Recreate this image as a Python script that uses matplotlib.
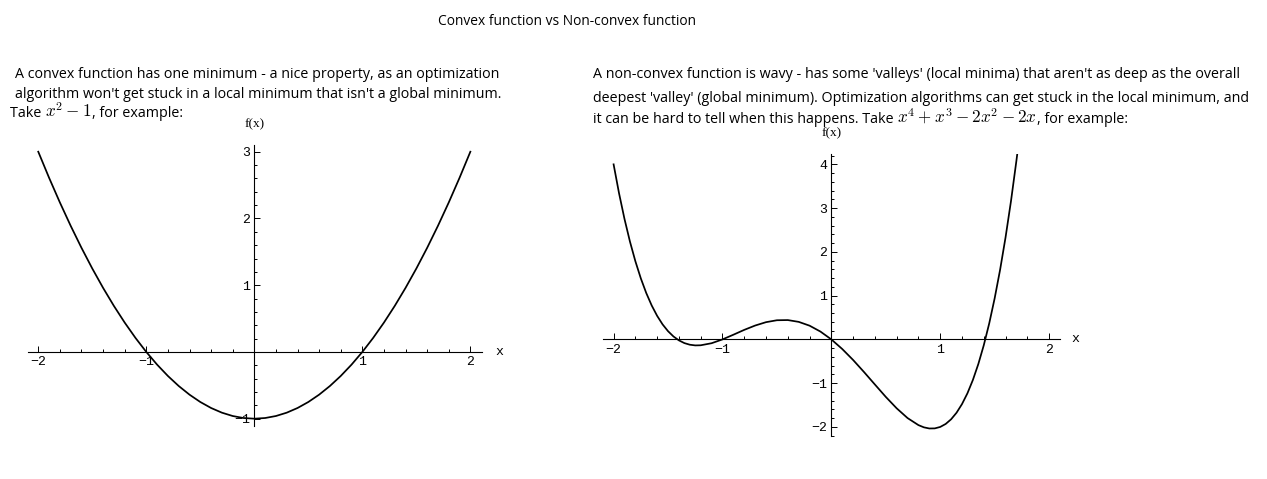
import matplotlib.pyplot as plt

plt.rcParams['font.family'] = ['Open Sans', 'DejaVu Sans']
plt.rcParams['mathtext.fontset'] = 'cm'

# points, f(x) = x^2 - 1
convex_x = [-2.0, -1.9, -1.8, -1.7, -1.6, -1.5, -1.4, -1.3, -1.2, -1.1, -1.0,
            -0.9, -0.8, -0.7, -0.6, -0.5, -0.4, -0.3, -0.2, -0.1, 0.0,
            0.1, 0.2, 0.3, 0.4, 0.5, 0.6, 0.7, 0.8, 0.9, 1.0,
            1.1, 1.2, 1.3, 1.4, 1.5, 1.6, 1.7, 1.8, 1.9, 2.0]
convex_y = [3.00, 2.61, 2.24, 1.89, 1.56, 1.25, 0.96, 0.69, 0.44, 0.21, 0.00,
            -0.19, -0.36, -0.51, -0.64, -0.75, -0.84, -0.91, -0.96, -0.99, -1.00,
            -0.99, -0.96, -0.91, -0.84, -0.75, -0.64, -0.51, -0.36, -0.19, 0.00,
            0.21, 0.44, 0.69, 0.96, 1.25, 1.56, 1.89, 2.24, 2.61, 3.00]

# points, f(x) = x^4 + x^3 - 2x^2 - 2x
nonconvex_x = [-2.0, -1.95, -1.9, -1.85, -1.8, -1.75, -1.7, -1.65, -1.6, -1.55,
               -1.5, -1.45, -1.4, -1.35, -1.3, -1.25, -1.2, -1.1, -1.0,
               -0.9, -0.8, -0.7, -0.6, -0.5, -0.4, -0.3, -0.2, -0.1, 0.0,
               0.1, 0.2, 0.3, 0.4, 0.5, 0.6, 0.7, 0.8, 0.85, 0.9, 0.95,
               1.0, 1.05, 1.1, 1.15, 1.2, 1.25, 1.3, 1.35, 1.4, 1.45,
               1.5, 1.55, 1.6, 1.65, 1.7, 1.71]
nonconvex_y = [4.000, 3.339, 2.753, 2.237, 1.786, 1.395, 1.059, 0.775, 0.538, 0.343,
               0.188, 0.067, -0.022, -0.084, -0.121, -0.137, -0.134, -0.087, 0.000,
               0.107, 0.218, 0.317, 0.394, 0.438, 0.442, 0.401, 0.314, 0.179, 0.000,
               -0.219, -0.470, -0.745, -1.030, -1.313, -1.574, -1.797, -1.958, -2.009, -2.035, -2.033,
               -2.000, -1.932, -1.825, -1.675, -1.478, -1.231, -0.927, -0.563, -0.134, 0.364,
               0.938, 1.591, 2.330, 3.159, 4.085, 4.282]

x_ticks = [-2, -1, 1, 2]
x_labels = ['\u22122', '\u22121', '1', '2']
convex_yticks = [-1, 1, 2, 3]
convex_ylabels = ['\u22121', '1', '2', '3']
nonconvex_yticks = [-2, -1, 1, 2, 3, 4]
nonconvex_ylabels = ['\u22122', '\u22121', '1', '2', '3', '4']

W, H = 1267, 479
fig = plt.figure(figsize=(W / 100, H / 100), dpi=100)
renderer = fig.canvas.get_renderer()


def setup(ax, xlim, ylim, yticks, ylabels, minor_y):
    ax.set_xlim(xlim)
    ax.set_ylim(ylim)
    ax.patch.set_visible(False)
    for s in ['top', 'right']:
        ax.spines[s].set_visible(False)
    for s in ['left', 'bottom']:
        ax.spines[s].set_position(('data', 0))
        ax.spines[s].set_linewidth(0.8)
    ax.set_xticks(x_ticks, labels=x_labels)
    ax.set_yticks(yticks, labels=ylabels)
    ax.set_xticks([i / 5 for i in range(-10, 11) if i % 5], minor=True)
    ax.set_yticks(minor_y, minor=True)
    ax.tick_params(which='both', direction='in', width=0.7, colors='black',
                   labelfontfamily='Liberation Mono', labelsize=9.5)
    ax.tick_params(which='major', length=4.5, pad=3)
    ax.tick_params(which='minor', length=2.2)


ax1 = fig.add_axes([0.0221, 0.1106, 0.3581, 0.5866])
setup(ax1, (-2.095, 2.105), (-1.11, 3.1), convex_yticks, convex_ylabels,
      [i / 5 for i in range(-5, 16) if i % 5])
ax1.plot(convex_x, convex_y, color='black', lw=1.25)
ax1.text(2.27, 0, 'x', fontfamily='Liberation Mono', fontsize=9.5,
         ha='center', va='center', clip_on=False)
ax1.text(0, 3.41, 'f(x)', fontfamily='Liberation Serif', fontsize=9.5,
         ha='center', va='center', clip_on=False)

ax2 = fig.add_axes([0.4757, 0.0904, 0.3609, 0.5875])
setup(ax2, (-2.1, 2.1), (-2.2, 4.23), nonconvex_yticks, nonconvex_ylabels,
      [i / 5 for i in range(-11, 22) if i % 5])
ax2.plot(nonconvex_x, nonconvex_y, color='black', lw=1.25)
ax2.text(2.24, 0, 'x', fontfamily='Liberation Mono', fontsize=9.5,
         ha='center', va='center', clip_on=False)
ax2.text(0, 4.72, 'f(x)', fontfamily='Liberation Serif', fontsize=9.5,
         ha='center', va='center', clip_on=False)

fig.text(567.5 / W, 1 - 21.5 / H, 'Convex function vs Non-convex function',
         ha='center', va='center', fontsize=9.9)

fs = 10.25
ms = 12.3


def line(x, y, s):
    fig.text(x / W, 1 - y / H, s, ha='left', va='center', fontsize=fs)


def rich_line(x, y, parts):
    # text pieces on one baseline, math pieces a bit bigger
    for s, size in parts:
        t = fig.text(x / W, 1 - y / H, s, ha='left', va='baseline', fontsize=size)
        x = t.get_window_extent(renderer).x1


line(15, 75, 'A convex function has one minimum - a nice property, as an optimization')
line(15, 94, "algorithm won't get stuck in a local minimum that isn't a global minimum.")
rich_line(10, 117, [('Take ', fs), (r'$x^2-1$', ms), (', for example:', fs)])

line(593, 75, "A non-convex function is wavy - has some 'valleys' (local minima) that aren't as deep as the overall")
line(593, 98, "deepest 'valley' (global minimum). Optimization algorithms can get stuck in the local minimum, and")
rich_line(593, 123, [('it can be hard to tell when this happens. Take ', fs),
                     (r'$x^4+x^3-2x^2-2x$', ms), (', for example:', fs)])

fig.savefig('out.png', dpi=100)
